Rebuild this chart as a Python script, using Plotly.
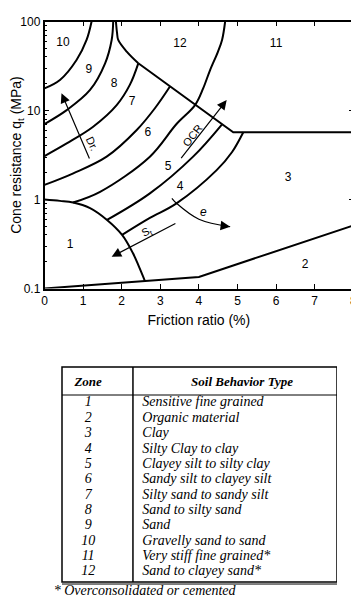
import math
import plotly.graph_objects as go

# The page body has an 8px default margin, so the figure is sized to fill
# the remaining window and positions are measured from the figure's corner.
PAD = 8
W, H = 359 - PAD, 600 - PAD

# ---------------- chart data (friction ratio %, cone resistance MPa) ----------------
zone1_x = [0, 0.4, 0.74, 1.18, 1.62, 2.01, 2.29, 2.45, 2.6]
zone1_y = [1.0, 0.965, 0.925, 0.80, 0.589, 0.40, 0.25, 0.175, 0.122]

zone2_x = [0, 4, 8]
zone2_y = [0.1, 0.135, 0.51]

arc10_9_x = [0, 0.40, 0.83, 1.09, 1.22]
arc10_9_y = [17.7, 22.0, 36.9, 62, 100]

arc9_8_x = [0, 0.575, 1.18, 1.57, 1.74, 1.78]
arc9_8_y = [7.05, 10.1, 17.0, 33.9, 62, 100]

cusp_x = [1.85, 1.88, 1.91, 2.13, 2.43]
cusp_y = [100, 74, 62, 45.8, 33.9]

diag_x = [2.43, 4.89, 8]
diag_y = [33.9, 5.7, 5.7]

arc8_7_x = [0, 0.575, 1.26, 1.87, 2.21, 2.43]
arc8_7_y = [3.08, 4.27, 6.58, 11.5, 19.4, 33.9]

arc7_6_x = [0, 0.746, 1.61, 2.39, 2.86, 3.25]
arc7_6_y = [1.46, 1.97, 3.03, 6.04, 10.6, 18.6]

arc6_5_x = [0.74, 1.44, 2.73, 3.42, 3.90, 4.11, 4.29, 4.49, 4.60, 4.68]
arc6_5_y = [0.925, 1.22, 3.03, 7.05, 11.5, 17.7, 28.5, 45.4, 62, 100]

arc5_4_x = [1.62, 2.73, 3.85, 4.60]
arc5_4_y = [0.589, 1.17, 3.03, 7.0]

arc4_3_x = [2.01, 2.73, 3.42, 4.46, 4.86, 5.15]
arc4_3_y = [0.40, 0.62, 0.906, 2.14, 3.42, 5.7]

e_curve_x = [3.30, 3.42, 4.0, 4.81]
e_curve_y = [1.03, 0.906, 0.60, 0.494]

zone_names = ["1", "2", "3", "4", "5", "6", "7", "8", "9", "10", "11", "12"]
zone_label_x = [0.66, 6.75, 6.31, 3.51, 3.20, 2.68, 2.27, 1.80, 1.15, 0.48, 6.0, 3.51]
zone_label_y = [0.308, 0.184, 1.75, 1.38, 2.32, 5.58, 12.5, 19.9, 28.5, 57.3, 55.9, 55.9]

x_ticks = [0, 1, 2, 3, 4, 5, 6, 7, 8]
y_ticks = [0.1, 1, 10, 100]
y_tick_text = ["0.1", "1", "10", "100"]
y_minor = [d * k for d in (0.1, 1, 10) for k in range(2, 10)]

# ---------------- table data ----------------
table_header = ["Zone", "Soil Behavior Type"]
table_zones = ["1", "2", "3", "4", "5", "6", "7", "8", "9", "10", "11", "12"]
table_types = [
    "Sensitive fine grained",
    "Organic material",
    "Clay",
    "Silty Clay to clay",
    "Clayey silt to silty clay",
    "Sandy silt to clayey silt",
    "Silty sand to sandy silt",
    "Sand to silty sand",
    "Sand",
    "Gravelly sand to sand",
    "Very stiff fine grained*",
    "Sand to clayey sand*",
]
footnote = "* Overconsolidated or cemented"

SANS = "Liberation Sans, Arial, Helvetica, sans-serif"
SERIF = "Liberation Serif, Times New Roman, serif"


def fx(px):
    """page x pixel -> paper fraction"""
    return (px - PAD) / W


def fy(py):
    """page y pixel -> paper fraction (from bottom)"""
    return (600 - py) / H


fig = go.Figure()

boundaries = [
    (zone1_x, zone1_y, "spline"),
    (zone2_x, zone2_y, "linear"),
    (arc10_9_x, arc10_9_y, "spline"),
    (arc9_8_x, arc9_8_y, "spline"),
    (cusp_x, cusp_y, "spline"),
    (diag_x, diag_y, "linear"),
    (arc8_7_x, arc8_7_y, "spline"),
    (arc7_6_x, arc7_6_y, "spline"),
    (arc6_5_x, arc6_5_y, "spline"),
    (arc5_4_x, arc5_4_y, "spline"),
    (arc4_3_x, arc4_3_y, "spline"),
]
for bx, by, shp in boundaries:
    fig.add_trace(go.Scatter(x=bx, y=by, mode="lines",
                             line=dict(color="black", width=2, shape=shp),
                             hoverinfo="skip", xaxis="x", yaxis="y"))

fig.add_trace(go.Scatter(x=e_curve_x, y=e_curve_y, mode="lines",
                         line=dict(color="black", width=1.2, shape="spline"),
                         hoverinfo="skip", xaxis="x", yaxis="y"))

fig.add_trace(go.Scatter(x=zone_label_x, y=zone_label_y, mode="text", text=zone_names,
                         textfont=dict(family=SANS, size=12, color="black"),
                         hoverinfo="skip", xaxis="x", yaxis="y"))

L = math.log10
annotations = []


def arrow(x_head, y_head, x_tail, y_tail):
    annotations.append(dict(x=x_head, y=L(y_head), ax=x_tail, ay=L(y_tail),
                            xref="x", yref="y", axref="x", ayref="y",
                            showarrow=True, arrowhead=2, arrowsize=1.6,
                            arrowwidth=1.2, arrowcolor="black", text=""))


arrow(0.44, 15.6, 1.18, 2.78)      # Dr
arrow(4.72, 13.1, 3.51, 2.81)      # OCR
arrow(1.74, 0.227, 3.43, 0.548)    # St
arrow(e_curve_x[-1], e_curve_y[-1], 4.55, 0.51)  # e head


def label(x, y, text, angle=0, size=11):
    annotations.append(dict(x=x, y=L(y), xref="x", yref="y", text=text,
                            showarrow=False, textangle=angle,
                            font=dict(family=SANS, size=size, color="black")))


label(1.22, 4.27, "Dr.", 64)
label(3.84, 5.3, "OCR", -52)
label(2.66, 0.43, "S<sub>t</sub>", -28)
label(4.11, 0.73, "<i>e</i>", 0, 12)

# ---------------- table ----------------
col_zone = 0.095
col_head_type = 0.655
col_type = 0.292
col_note = -0.03
header_row = -0.30
note_row = 13.25
top_edge, bottom_edge, header_line, divider = -1.34, 12.65, 0.48, 0.258
rows = list(range(1, len(table_zones) + 1))

TABLE_X0 = 62      # page pixel of table's left border (x2 = 0)
TABLE_X1 = 337     # page pixel of table's right border (x2 = 1)
X2_MIN = -0.05     # extra room on the left for the footnote
x2_left_px = TABLE_X0 + X2_MIN * (TABLE_X1 - TABLE_X0)

fig.add_trace(go.Scatter(x=[col_zone, col_head_type], y=[header_row, header_row], mode="text",
                         text=[f"<b><i>{t}</i></b>" for t in table_header],
                         textfont=dict(family=SERIF, size=13, color="black"),
                         hoverinfo="skip", xaxis="x2", yaxis="y2", cliponaxis=False))
fig.add_trace(go.Scatter(x=[col_zone] * len(rows), y=rows, mode="text",
                         text=[f"<i>{z}</i>" for z in table_zones],
                         textfont=dict(family=SERIF, size=14, color="black"),
                         hoverinfo="skip", xaxis="x2", yaxis="y2", cliponaxis=False))
fig.add_trace(go.Scatter(x=[col_type] * len(rows), y=rows, mode="text",
                         text=[f"<i>{t}</i>" for t in table_types],
                         textposition="middle right",
                         textfont=dict(family=SERIF, size=14, color="black"),
                         hoverinfo="skip", xaxis="x2", yaxis="y2", cliponaxis=False))
fig.add_trace(go.Scatter(x=[col_note], y=[note_row], mode="text",
                         text=[f"<i>{footnote}</i>"], textposition="middle right",
                         textfont=dict(family=SERIF, size=14, color="black"),
                         hoverinfo="skip", xaxis="x2", yaxis="y2", cliponaxis=False))

shapes = [
    dict(type="rect", xref="x2", yref="y2", x0=0, x1=1, y0=top_edge, y1=bottom_edge,
         line=dict(color="black", width=1.5)),
    dict(type="line", xref="x2", yref="y2", x0=0, x1=1, y0=header_line, y1=header_line,
         line=dict(color="black", width=1)),
    dict(type="line", xref="x2", yref="y2", x0=divider, x1=divider, y0=top_edge, y1=bottom_edge,
         line=dict(color="black", width=1.5)),
    dict(type="line", xref="x2", yref="y2", x0=0, x1=1, y0=bottom_edge + 0.14, y1=bottom_edge + 0.14,
         line=dict(color="black", width=1)),
]

fig.update_layout(
    width=W, height=H,
    margin=dict(l=0, r=0, t=0, b=0),
    paper_bgcolor="white", plot_bgcolor="white",
    showlegend=False,
    font=dict(family=SANS, color="black"),
    annotations=annotations,
    shapes=shapes,
    xaxis=dict(domain=[fx(44.5), fx(353.3)], range=[0, 8], tickvals=x_ticks,
               ticks="inside", ticklen=5, tickwidth=1, tickcolor="black",
               showline=True, linecolor="black", linewidth=1.5, mirror="allticks",
               showgrid=False, zeroline=False, automargin=False,
               tickfont=dict(family=SANS, size=12),
               title=dict(text="Friction ratio (%)", font=dict(family=SANS, size=14), standoff=9),
               anchor="y"),
    yaxis=dict(type="log", domain=[fy(288.5), fy(21.5)], range=[-1, 2],
               tickvals=y_ticks, ticktext=y_tick_text,
               ticks="inside", ticklen=5, tickwidth=1, tickcolor="black",
               minor=dict(ticks="inside", ticklen=3, tickwidth=1, tickcolor="black",
                          tickvals=y_minor, showgrid=False),
               showline=True, linecolor="black", linewidth=1.5, mirror="allticks",
               showgrid=False, zeroline=False, automargin=False,
               tickfont=dict(family=SANS, size=12),
               title=dict(text="Cone resistance q<sub>t</sub> (MPa)",
                          font=dict(family=SANS, size=14), standoff=2),
               anchor="x"),
    xaxis2=dict(domain=[fx(x2_left_px), fx(TABLE_X1)], range=[X2_MIN, 1],
                visible=False, anchor="y2"),
    yaxis2=dict(domain=[fy(600), fy(360)], range=[13.83, -1.80], visible=False, anchor="x2"),
)

fig.write_html("out.html")
